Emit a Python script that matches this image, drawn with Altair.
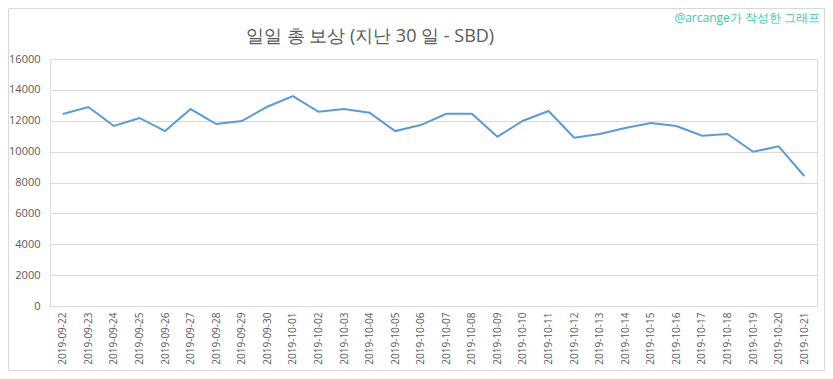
import altair as alt
import pandas as pd

dates = [
    "2019-09-22", "2019-09-23", "2019-09-24", "2019-09-25", "2019-09-26",
    "2019-09-27", "2019-09-28", "2019-09-29", "2019-09-30", "2019-10-01",
    "2019-10-02", "2019-10-03", "2019-10-04", "2019-10-05", "2019-10-06",
    "2019-10-07", "2019-10-08", "2019-10-09", "2019-10-10", "2019-10-11",
    "2019-10-12", "2019-10-13", "2019-10-14", "2019-10-15", "2019-10-16",
    "2019-10-17", "2019-10-18", "2019-10-19", "2019-10-20", "2019-10-21",
]
rewards = [
    12440, 12890, 11660, 12180, 11330,
    12760, 11790, 11980, 12910, 13600,
    12580, 12760, 12520, 11330, 11720,
    12450, 12450, 10970, 12000, 12630,
    10900, 11140, 11530, 11850, 11660,
    11030, 11140, 9990, 10340, 8420,
]
y_ticks = [0, 2000, 4000, 6000, 8000, 10000, 12000, 14000, 16000]

title_text = "일일 총 보상 (지난 30 일 - SBD)"
credit_text = "@arcange가 작성한 그래프"

df = pd.DataFrame({"date": dates, "value": rewards})

GRAY = "#595959"
FONT = "Open Sans"

line = alt.Chart(df).mark_line(color="#5b9bd5", strokeWidth=2).encode(
    x=alt.X(
        "date:N",
        sort=dates,
        title=None,
        scale=alt.Scale(paddingInner=0, paddingOuter=0),
        axis=alt.Axis(
            labelAngle=270,
            labelFontSize=10,
            labelColor=GRAY,
            labelFont=FONT,
            labelPadding=6,
            ticks=False,
            domain=False,
            grid=False,
        ),
    ),
    y=alt.Y(
        "value:Q",
        title=None,
        scale=alt.Scale(domain=[0, 16000], nice=False),
        axis=alt.Axis(
            values=y_ticks,
            format="d",
            labelFontSize=11,
            labelColor=GRAY,
            labelFont=FONT,
            labelPadding=10,
            ticks=False,
            domain=False,
            gridColor="#d9d9d9",
            gridWidth=1,
        ),
    ),
)

title = alt.Chart(pd.DataFrame({"t": [title_text]})).mark_text(
    font=FONT, fontSize=18, color=GRAY, align="center", baseline="middle"
).encode(text="t:N", x=alt.value(320), y=alt.value(-22))

credit = alt.Chart(pd.DataFrame({"t": [credit_text]})).mark_text(
    font=FONT, fontSize=12, color="#3cc8a8", align="right", baseline="middle"
).encode(text="t:N", x=alt.value(770), y=alt.value(-41))

border = alt.Chart(pd.DataFrame({"a": [0]})).mark_rect(
    fill=None, stroke="#d9d9d9", strokeWidth=1
).encode(
    x=alt.value(-41.5), x2=alt.value(774.5), y=alt.value(-50.5), y2=alt.value(311.5)
)

chart = (
    alt.layer(border, line, title, credit)
    .properties(
        width=767,
        height=247,
        autosize=alt.AutoSizeParams(type="none"),
        padding={"left": 42, "top": 51, "right": 8, "bottom": 65},
    )
    .configure_view(stroke=None)
    .configure(background="white")
)

chart.save("out.html", embed_options={"renderer": "svg", "actions": False})
